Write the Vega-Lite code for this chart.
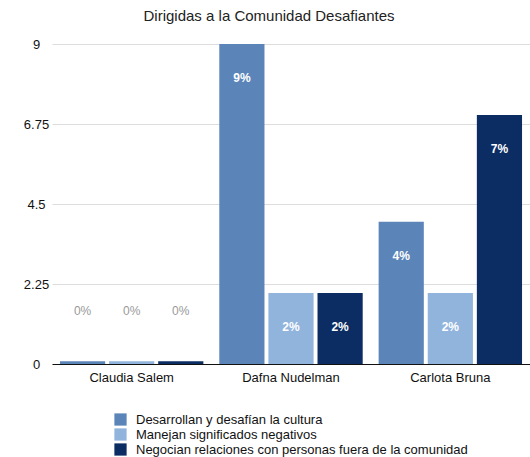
{
  "$schema": "https://vega.github.io/schema/vega-lite/v6.json",
  "width": 478,
  "height": 320,
  "autosize": {"type": "none"},
  "padding": {"left": 52, "top": 44, "right": 0, "bottom": 93},
  "background": "white",
  "title": {"text": "Dirigidas a la Comunidad Desafiantes", "font": "Liberation Sans", "fontSize": 15, "fontWeight": "normal", "color": "#222", "offset": 14, "dx": -22},
  "config": {"view": {"stroke": null}, "font": "Liberation Sans"},
  "data": {"values": [
    {"name": "Claudia Salem", "cat": "Desarrollan y desafían la cultura", "value": 0.08, "label": "0%"},
    {"name": "Claudia Salem", "cat": "Manejan significados negativos", "value": 0.08, "label": "0%"},
    {"name": "Claudia Salem", "cat": "Negocian relaciones con personas fuera de la comunidad", "value": 0.08, "label": "0%"},
    {"name": "Dafna Nudelman", "cat": "Desarrollan y desafían la cultura", "value": 9, "label": "9%"},
    {"name": "Dafna Nudelman", "cat": "Manejan significados negativos", "value": 2, "label": "2%"},
    {"name": "Dafna Nudelman", "cat": "Negocian relaciones con personas fuera de la comunidad", "value": 2, "label": "2%"},
    {"name": "Carlota Bruna", "cat": "Desarrollan y desafían la cultura", "value": 4, "label": "4%"},
    {"name": "Carlota Bruna", "cat": "Manejan significados negativos", "value": 2, "label": "2%"},
    {"name": "Carlota Bruna", "cat": "Negocian relaciones con personas fuera de la comunidad", "value": 7, "label": "7%"}
  ]},
  "encoding": {
    "x": {"field": "name", "type": "nominal", "sort": ["Claudia Salem", "Dafna Nudelman", "Carlota Bruna"],
      "scale": {"paddingInner": 0.1, "paddingOuter": 0.05},
      "axis": {"title": null, "labelAngle": 0, "labelFontSize": 13, "labelColor": "#111", "ticks": false, "domainColor": "#111", "domainWidth": 1, "labelPadding": 7}},
    "xOffset": {"field": "cat", "type": "nominal", "scale": {"paddingInner": 0.08}},
    "y": {"field": "value", "type": "quantitative", "scale": {"domain": [0, 9], "nice": false},
      "axis": {"title": null, "values": [0, 2.25, 4.5, 6.75, 9], "labelExpr": "'' + datum.value", "labelAlign": "center", "labelPadding": 16, "labelFontSize": 13, "labelColor": "#111", "ticks": false, "domain": false, "gridColor": "#dddddd", "gridWidth": 1}}
  },
  "layer": [
    {
      "mark": {"type": "bar"},
      "encoding": {
        "color": {"field": "cat", "type": "nominal",
          "scale": {"domain": ["Desarrollan y desafían la cultura", "Manejan significados negativos", "Negocian relaciones con personas fuera de la comunidad"], "range": ["#5b85b9", "#91b4dd", "#0b2d63"]},
          "legend": {"title": null, "orient": "none", "legendX": 62, "legendY": 369, "direction": "vertical", "symbolType": "square", "symbolSize": 150, "symbolStrokeWidth": 0, "symbolOpacity": 1, "labelFontSize": 13, "labelColor": "#111", "labelLimit": 0, "rowPadding": 1, "labelOffset": 9}}
      }
    },
    {
      "transform": [{"filter": "datum.value > 1"}],
      "mark": {"type": "text", "color": "white", "fontSize": 12, "fontWeight": "bold", "dy": 34, "baseline": "middle"},
      "encoding": {"text": {"field": "label"}}
    },
    {
      "transform": [{"filter": "datum.value <= 1"}],
      "mark": {"type": "text", "color": "#999999", "fontSize": 12, "dy": -50, "baseline": "middle"},
      "encoding": {"text": {"field": "label"}}
    }
  ]
}
